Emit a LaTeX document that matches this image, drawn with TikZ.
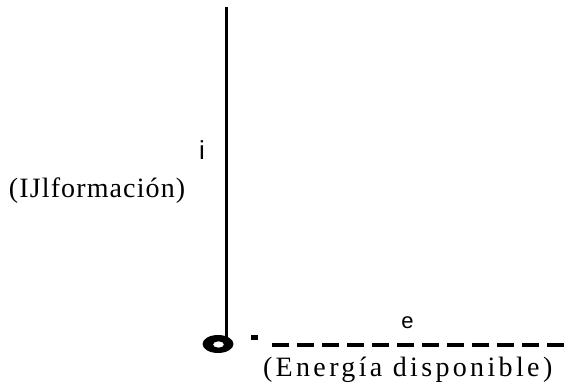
\documentclass[tikz,border=0pt]{standalone}
\usepackage{fontspec}
\setmainfont{Liberation Serif}
\newfontfamily\lsans{Liberation Sans}
\newfontfamily\serifA[LetterSpace=4]{Liberation Serif}
\newfontfamily\serifB[LetterSpace=12]{Liberation Serif}
\tikzset{
  lbl/.style={inner sep=0pt, outer sep=0pt},
  axisline/.style={line width=3pt, black},
  dashline/.style={line width=3.5pt, black, dash pattern=on 17pt off 8pt}
}
\begin{document}
\begin{tikzpicture}[x=1pt,y=-1pt]
\useasboundingbox (0,0) rectangle (565,387);
\coordinate (top) at (226,7);
\coordinate (bot) at (226,337);
\draw[axisline] (top) -- (bot);
% bold o
\fill[black, even odd rule] (218,344) ellipse [x radius=15.5, y radius=9]
  (218.5,344.5) ellipse [x radius=5.5, y radius=3.2];
% small dash
\fill[black] (251,335) rectangle (258,340);
\coordinate (dstart) at (272,345);
\coordinate (dend) at (565,345);
\draw[dashline] (dstart) -- (dend);
\node[lbl, anchor=base west] (info) at (9,198) {\fontsize{28}{32}\serifA (IJlformación)};
\node[lbl, anchor=base west] (energ) at (263,377) {\fontsize{28}{32}\serifB (Energía disponible)};
\node[lbl, anchor=base] (e) at (407.5,329) {\fontsize{22}{26}\lsans e};
\node[lbl, anchor=base] (i) at (202,160) {\fontsize{26}{30}\lsans i};
\end{tikzpicture}
\end{document}
